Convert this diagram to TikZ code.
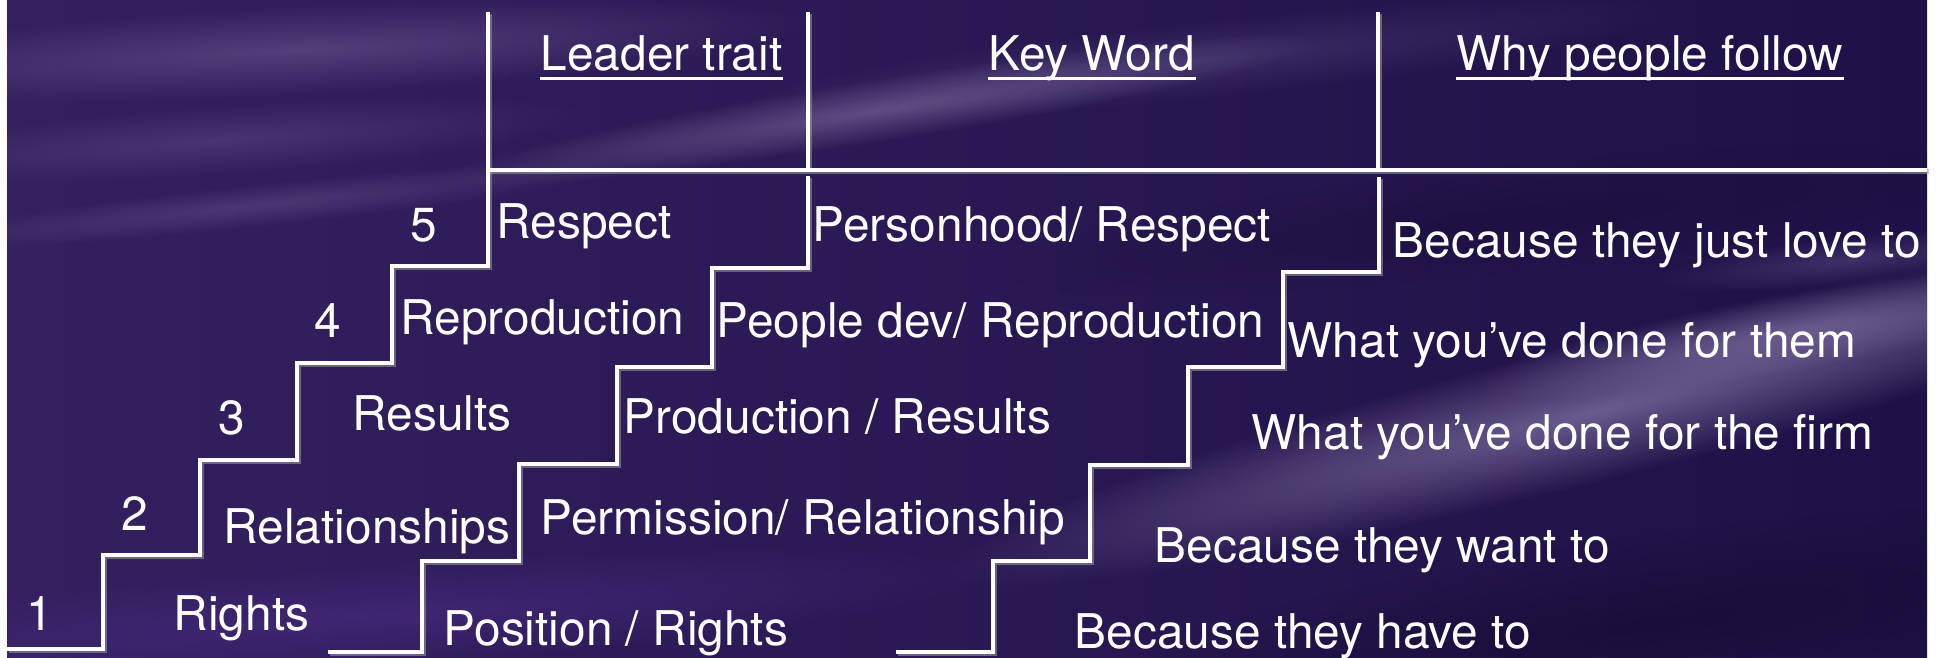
\documentclass[tikz,border=0pt]{standalone}
\usepackage{fontspec}
\setmainfont{TeX Gyre Heros}
\usetikzlibrary{fadings}
\definecolor{bgL}{HTML}{34205F}
\definecolor{bgR}{HTML}{1F1147}
\definecolor{lav}{HTML}{7A6AA2}
\definecolor{lavB}{HTML}{9A8CBA}
\definecolor{purL}{HTML}{4E2E88}
\definecolor{dk}{HTML}{120A2A}
\tikzfading[name=softfade, inner color=transparent!0, outer color=transparent!100]
% \wisp{colour}{opacity}{cx,cy}{angle}{x radius}{y radius}
\newcommand{\wisp}[6]{%
  \begin{scope}[transform canvas={shift={(#3)}, rotate=#4}]
    \fill[#1, fill opacity=#2, path fading=softfade] (0,0) ellipse [x radius=#5, y radius=#6];
  \end{scope}}
\tikzset{
  stair/.style={draw=white, line width=1.3pt, line join=miter},
  shadowline/.style={draw=gray!75, line width=1.3pt, opacity=0.55, xshift=0.5pt, yshift=-0.5pt},
  txt/.style={text=white, inner sep=0pt, anchor=base west, font=\fontsize{13.6pt}{16pt}\selectfont},
  num/.style={txt, anchor=base},
  uline/.style={draw=white, line width=0.9pt}
}
\begin{document}
\begin{tikzpicture}[x=0.01cm, y=-0.01cm]
\useasboundingbox (0,0) rectangle (1946,658);
\fill[white] (0,0) rectangle (1946,658);
\begin{scope}
\clip (7,0) rectangle (1927,658);
\shade[left color=bgL, right color=bgR] (7,0) rectangle (1927,658);
% soft wisps of light and shade
\wisp{lav}{0.45}{300,50}{3}{520}{45}
\wisp{lav}{0.30}{220,140}{4}{380}{35}
\wisp{lav}{0.35}{260,205}{6}{380}{22}
\wisp{lavB}{0.45}{880,110}{9}{450}{32}
\wisp{lav}{0.25}{1200,60}{6}{500}{40}
\wisp{lavB}{0.6}{1600,410}{14}{680}{70}
\wisp{lavB}{0.45}{1800,330}{10}{330}{40}
\wisp{lav}{0.35}{1850,260}{6}{200}{25}
\wisp{purL}{0.55}{380,615}{4}{650}{55}
\wisp{dk}{0.55}{1650,625}{8}{600}{90}
\wisp{dk}{0.35}{1500,220}{6}{500}{55}
\end{scope}

% header grid
\draw[shadowline] (488,12) -- (488,170);
\draw[shadowline] (808,12) -- (808,170);
\draw[shadowline] (1378,12) -- (1378,170);
\draw[shadowline] (488,170) -- (1927,170);
\draw[stair] (488,12) -- (488,170);
\draw[stair] (808,12) -- (808,170);
\draw[stair] (1378,12) -- (1378,170);
\draw[stair] (488,170) -- (1927,170);

% staircases
\newcommand{\stairA}{(7,649) -- (103,649) -- (103,555) -- (200,555) -- (200,460) -- (297,460) -- (297,363) -- (392,363) -- (392,266) -- (488,266) -- (488,170)}
\newcommand{\stairB}{(328,652) -- (422,652) -- (422,561) -- (519,561) -- (519,464) -- (617,464) -- (617,367) -- (712,367) -- (712,268) -- (808,268) -- (808,176)}
\newcommand{\stairC}{(896,652) -- (993,652) -- (993,561) -- (1090,561) -- (1090,465) -- (1188,465) -- (1188,367) -- (1283,367) -- (1283,272) -- (1379,272) -- (1379,177)}
\draw[shadowline] \stairA;
\draw[shadowline] \stairB;
\draw[shadowline] \stairC;
\draw[stair] \stairA;
\draw[stair] \stairB;
\draw[stair] \stairC;

% headers
\node[txt] (h1) at (540,71) {Leader trait};
\node[txt] (h2) at (988,71) {Key Word};
\node[txt] (h3) at (1456,71) {Why people follow};
\draw[uline] ([yshift=-2.1pt]h1.base west) -- ([yshift=-2.1pt]h1.base east);
\draw[uline] ([yshift=-2.1pt]h2.base west) -- ([yshift=-2.1pt]h2.base east);
\draw[uline] ([yshift=-2.1pt]h3.base west) -- ([yshift=-2.1pt]h3.base east);

% numbers
\node[num] (n5) at (424,242) {5};
\node[num] (n4) at (328,338) {4};
\node[num] (n3) at (232,435) {3};
\node[num] (n2) at (135,530) {2};
\node[num] (n1) at (40,630) {1};

% leader traits
\node[txt] (t5) at (496,239) {Respect};
\node[txt] (t4) at (400,335) {Reproduction};
\node[txt] (t3) at (352,430) {Results};
\node[txt] (t2) at (223,543) {Relationships};
\node[txt] (t1) at (173,630) {Rights};

% key words
\node[txt] (k5) at (812,242) {Personhood/ Respect};
\node[txt] (k4) at (716,338) {People dev/ Reproduction};
\node[txt] (k3) at (623,433) {Production / Results};
\node[txt] (k2) at (540,534) {Permission/ Relationship};
\node[txt] (k1) at (443,645) {Position / Rights};

% why people follow
\node[txt] (w5) at (1392,258) {Because they just love to};
\node[txt] (w4) at (1287,357) {What you’ve done for them};
\node[txt] (w3) at (1251,449) {What you’ve done for the firm};
\node[txt] (w2) at (1154,562) {Because they want to};
\node[txt] (w1) at (1074,648) {Because they have to};
\end{tikzpicture}
\end{document}
